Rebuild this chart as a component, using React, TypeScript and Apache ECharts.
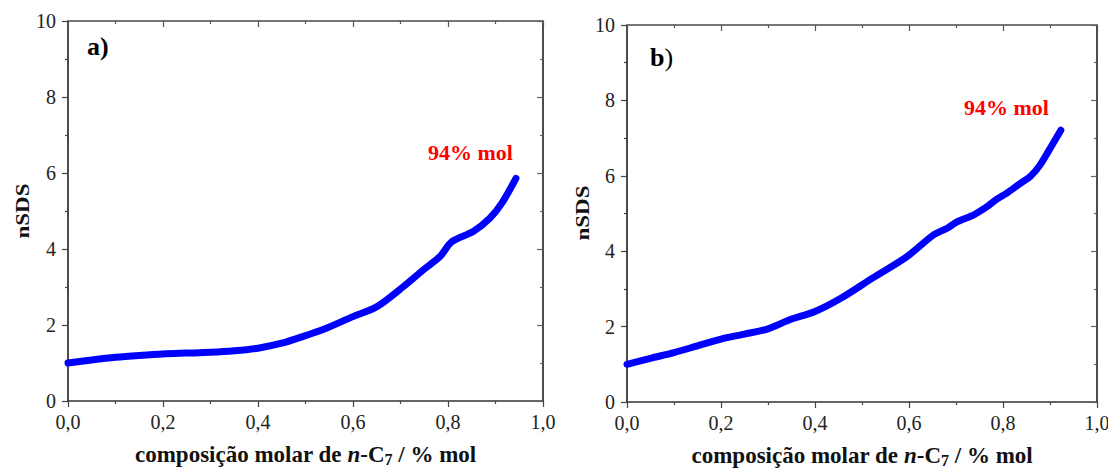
import React, { useEffect, useRef } from "react";
import * as echarts from "echarts";

// Panel a) data (x = mole fraction of n-C7, y = nSDS)
const aX = [0, 0.05, 0.1, 0.15, 0.2, 0.25, 0.3, 0.35, 0.4, 0.45, 0.5, 0.537, 0.6, 0.65, 0.706, 0.748, 0.783, 0.808, 0.853, 0.888, 0.913, 0.943];
const aY = [1.0, 1.08, 1.15, 1.2, 1.24, 1.26, 1.28, 1.32, 1.39, 1.52, 1.72, 1.88, 2.22, 2.48, 3.01, 3.45, 3.8, 4.19, 4.46, 4.81, 5.2, 5.86];

// Panel b) data
const bX = [0, 0.05, 0.1, 0.15, 0.2, 0.25, 0.3, 0.35, 0.4, 0.455, 0.524, 0.595, 0.652, 0.681, 0.702, 0.737, 0.766, 0.787, 0.808, 0.837, 0.858, 0.879, 0.907, 0.923];
const bY = [1.0, 1.16, 1.31, 1.49, 1.67, 1.8, 1.94, 2.2, 2.4, 2.75, 3.3, 3.85, 4.43, 4.61, 4.78, 4.96, 5.18, 5.38, 5.54, 5.8, 5.98, 6.29, 6.87, 7.21];

const yMin = 0, yMax = 10, yStep = 2;
const xMin = 0, xMax = 1, xStep = 0.2;
const yTitle = "nSDS";
const xTitle = "{b|composição molar de }{i|n}{b|-C}{s|7}{b| / % mol}";
const panelLabels = ["{b|a)}", "{b|b}{n|)}"];
const noteText = "94% mol";

const SERIF = "Liberation Serif";

export default function App() {
  const ref = useRef<HTMLDivElement>(null);
  useEffect(() => {
    if (!ref.current) return;
    const chart = echarts.init(ref.current, null, { renderer: "svg" });
    const grids = [
      { left: 68, top: 21, width: 475, height: 380, outerBoundsMode: "none", containLabel: false },
      { left: 627, top: 25, width: 470, height: 377, outerBoundsMode: "none", containLabel: false },
    ];
    const rich = {
      b: { fontFamily: SERIF, fontWeight: "bold", fontSize: 23, color: "#111", lineHeight: 26, verticalAlign: "middle" },
      i: { fontFamily: SERIF, fontWeight: "bold", fontStyle: "italic", fontSize: 23, color: "#111", lineHeight: 26, verticalAlign: "middle" },
      s: { fontFamily: SERIF, fontWeight: "bold", fontSize: 16, color: "#111", lineHeight: 12, verticalAlign: "bottom" },
    };
    const xAxes: any[] = [];
    const yAxes: any[] = [];
    grids.forEach((_, gi) => {
      xAxes.push({
        gridIndex: gi, type: "value", min: xMin, max: xMax, interval: xStep, position: "bottom",
        axisLine: { show: true, onZero: false, lineStyle: { color: "#333", width: 1.5 } },
        axisTick: { show: true, length: 6, lineStyle: { color: "#444", width: 1.2 } },
        minorTick: { show: true, splitNumber: 2, length: 3, lineStyle: { color: "#444", width: 1.2 } },
        splitLine: { show: false },
        axisLabel: {
          fontFamily: SERIF, fontSize: 20, color: "#222", margin: 11,
          formatter: (v: number) => v.toFixed(1).replace(".", ","),
        },
        name: xTitle, nameLocation: "middle", nameGap: 40,
        nameTextStyle: { rich },
      });
      xAxes.push({
        gridIndex: gi, type: "value", min: xMin, max: xMax, interval: xStep, position: "top",
        axisLine: { show: true, onZero: false, lineStyle: { color: "#777", width: 1.8 } },
        axisTick: { show: true, inside: true, length: 6, lineStyle: { color: "#555", width: 1.2 } },
        minorTick: { show: true, splitNumber: 2, length: 3, lineStyle: { color: "#555", width: 1.2 } },
        splitLine: { show: false },
        axisLabel: { show: false },
      });
      yAxes.push({
        gridIndex: gi, type: "value", min: yMin, max: yMax, interval: yStep, position: "left",
        axisLine: { show: true, onZero: false, lineStyle: { color: "#111", width: 1.5 } },
        axisTick: { show: true, length: 6, lineStyle: { color: "#444", width: 1.2 } },
        minorTick: { show: true, splitNumber: 2, length: 3, lineStyle: { color: "#444", width: 1.2 } },
        splitLine: { show: false },
        axisLabel: { fontFamily: SERIF, fontSize: 20, color: "#222", margin: 12 },
      });
      yAxes.push({
        gridIndex: gi, type: "value", min: yMin, max: yMax, interval: yStep, position: "right",
        axisLine: { show: true, onZero: false, lineStyle: { color: "#111", width: 1.5 } },
        axisTick: { show: true, inside: true, length: 6, lineStyle: { color: "#666", width: 1.2 } },
        minorTick: { show: true, splitNumber: 2, length: 3, lineStyle: { color: "#666", width: 1.2 } },
        splitLine: { show: false },
        axisLabel: { show: false },
      });
    });
    const mk = (xs: number[], ys: number[]) => xs.map((x, i) => [x, ys[i]]);
    const lineSeries = (data: number[][], gi: number) => ({
      type: "line",
      xAxisIndex: gi * 2,
      yAxisIndex: gi * 2,
      data,
      showSymbol: false,
      smooth: 0.3,
      lineStyle: { color: "#0000ff", width: 7, cap: "round", join: "round" },
      silent: true,
    });
    const yTitleText = (x: number, y: number) => ({
      type: "text", x, y, rotation: Math.PI / 2, scaleY: 0.78,
      style: { text: yTitle, fontFamily: SERIF, fontWeight: "bold", fontSize: 23, fill: "#111", align: "center", verticalAlign: "middle" },
    });
    const panelRich = {
      b: { fontFamily: SERIF, fontWeight: "bold", fontSize: 26, color: "#000" },
      n: { fontFamily: SERIF, fontWeight: "normal", fontSize: 26, color: "#000" },
    };
    chart.setOption({
      animation: false,
      backgroundColor: "#ffffff",
      textStyle: { fontFamily: SERIF },
      grid: grids,
      xAxis: xAxes,
      yAxis: yAxes,
      series: [lineSeries(mk(aX, aY), 0), lineSeries(mk(bX, bY), 1)],
      graphic: [
        yTitleText(23, 211),
        yTitleText(583, 213),
        { type: "text", left: 87, top: 33, style: { text: panelLabels[0], rich: panelRich } },
        { type: "text", left: 650, top: 44, style: { text: panelLabels[1], rich: panelRich } },
        { type: "text", left: 428, top: 141, style: { text: noteText, fontFamily: SERIF, fontWeight: "bold", fontSize: 22, fill: "#ff0000" } },
        { type: "text", left: 964, top: 96, style: { text: noteText, fontFamily: SERIF, fontWeight: "bold", fontSize: 22, fill: "#ff0000" } },
      ],
    });
    return () => chart.dispose();
  }, []);
  return <div ref={ref} style={{ position: "fixed", left: 0, top: 0, width: 1108, height: 468, background: "#fff" }} />;
}
